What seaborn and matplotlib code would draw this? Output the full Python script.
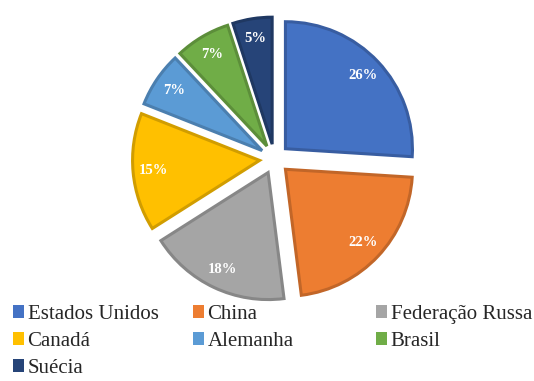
import matplotlib
matplotlib.use("Agg")
import matplotlib.pyplot as plt
import matplotlib.colors as mcolors
from matplotlib.patches import Patch
import seaborn as sns

categories = ["Estados Unidos", "China", "Federação Russa", "Canadá", "Alemanha", "Brasil", "Suécia"]
values = [26, 22, 18, 15, 7, 7, 5]
colors_hex = ["#4472C4", "#ED7D31", "#A5A5A5", "#FFC000", "#5B9BD5", "#70AD47", "#264478"]

sns.set_theme(style="white")
plt.rcParams["font.family"] = ["Liberation Serif", "DejaVu Serif"]

palette = sns.color_palette(colors_hex)
edge_cols = [tuple(c * 0.82 for c in mcolors.to_rgb(p)) for p in palette]

W, H = 534, 381
fig = plt.figure(figsize=(W / 100, H / 100), dpi=100)
ax = fig.add_axes([0, 0, 1, 1])

cx, cy, R = 274.5, H - 159, 127
explode = [15] * len(values)  # offset in data (pixel) units

wedges, texts, autotexts = ax.pie(
    values,
    colors=palette,
    explode=explode,
    startangle=90,
    counterclock=False,
    center=(cx, cy),
    radius=R,
    autopct=lambda p: f"{p:.0f}%",
    pctdistance=0.84,
    textprops=dict(color="white", fontsize=10.5, fontweight="bold",
                   family="Liberation Serif"),
)
for w, ec in zip(wedges, edge_cols):
    w.set_edgecolor(ec)
    w.set_linewidth(2.2)

ax.set_xlim(0, W)
ax.set_ylim(0, H)
ax.set_aspect("equal")
ax.axis("off")

handles = [Patch(facecolor=c, edgecolor="none") for c in palette]
cols = [[0, 3, 6], [1, 4], [2, 5]]
xs = [13, 193, 376]
for col, x0 in zip(cols, xs):
    fig.legend(
        [handles[i] for i in col],
        [categories[i] for i in col],
        loc="upper left",
        bbox_to_anchor=(x0 / W, 1 - 305 / H),
        frameon=False,
        prop=dict(family="Liberation Serif", size=15),
        handlelength=0.55,
        handleheight=0.55,
        handletextpad=0.15,
        labelspacing=0.38,
        borderpad=0,
        borderaxespad=0,
    )

fig.savefig("out.png", dpi=100)
